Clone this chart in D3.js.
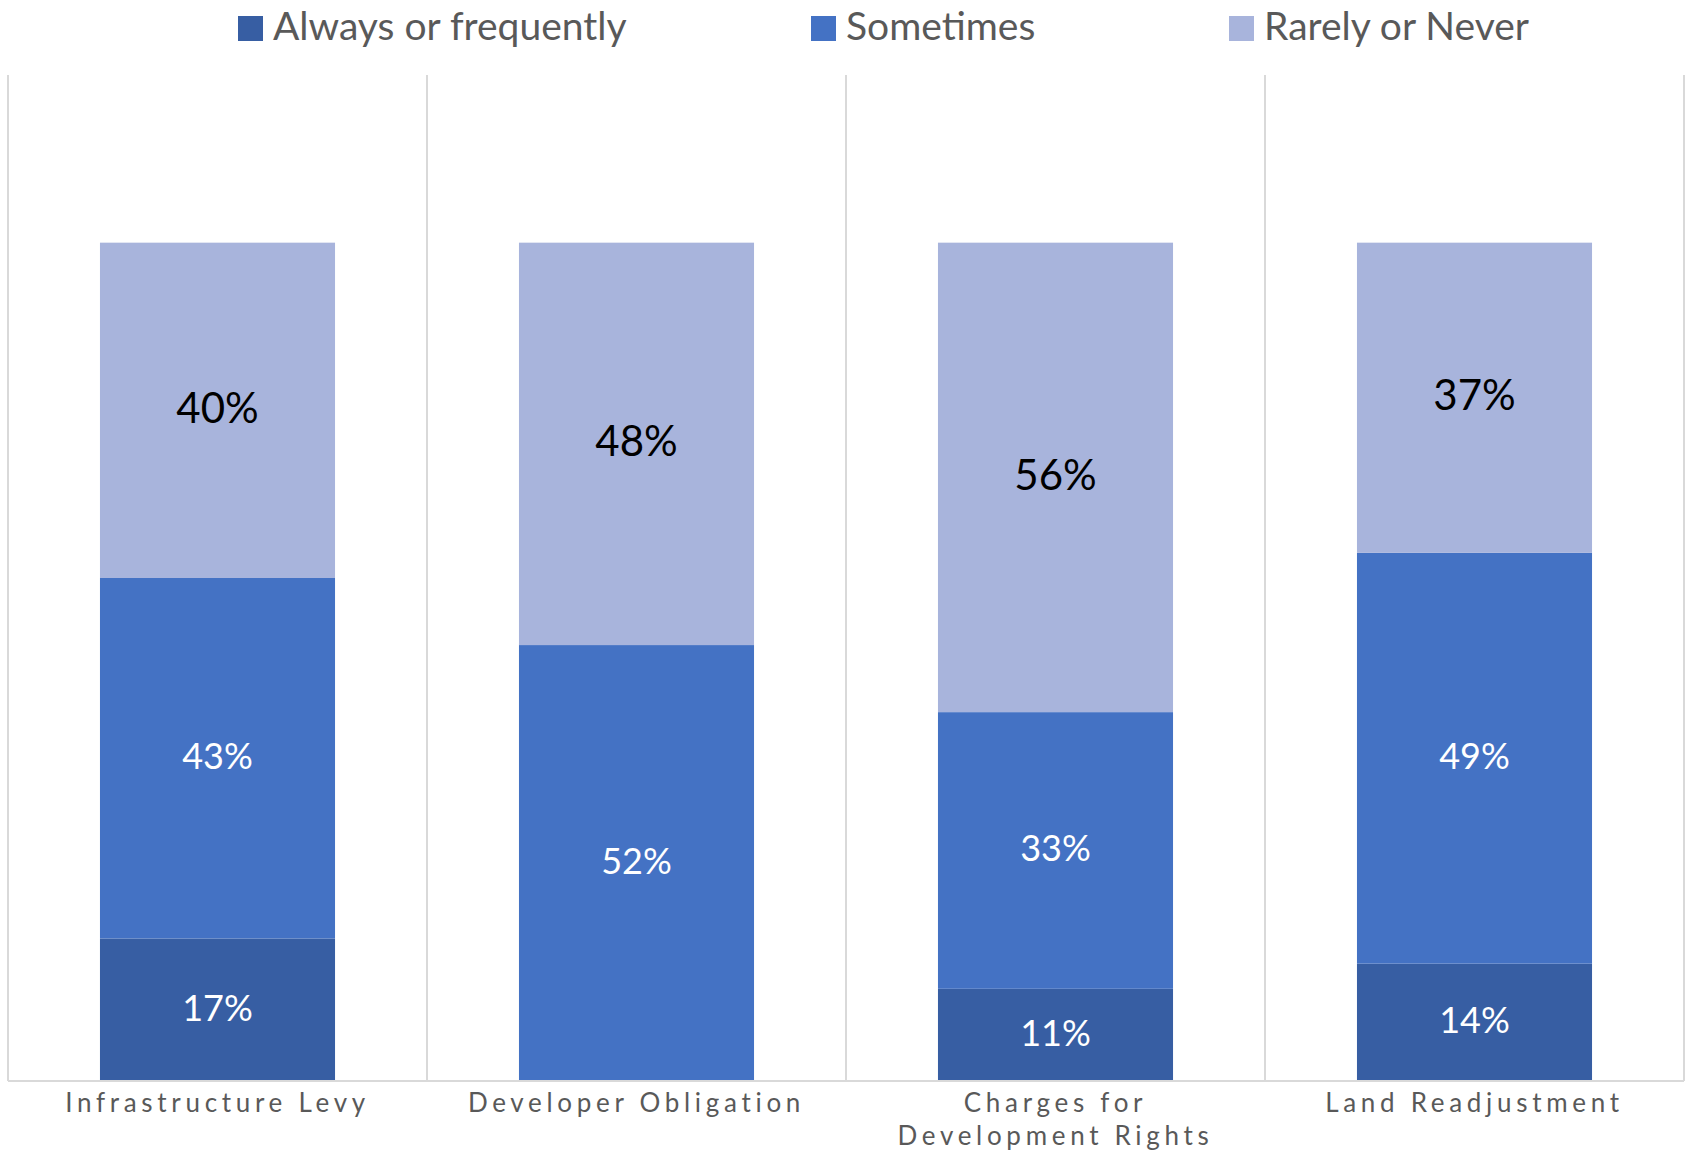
<!DOCTYPE html>
<html>
<head>
<meta charset="utf-8">
<script src="https://cdn.jsdelivr.net/npm/d3@7"></script>
<style>
  html, body { margin: 0; padding: 0; background: #ffffff; }
  svg { display: block; }
  text { font-family: Lato, "Open Sans", sans-serif; }
</style>
</head>
<body>
<svg id="chart" width="1686" height="1153"></svg>
<script>
// Survey responses by land value capture instrument (share of respondents)
const categories = [
  ["Infrastructure Levy"],
  ["Developer Obligation"],
  ["Charges for", "Development Rights"],
  ["Land Readjustment"]
];
const seriesNames = ["Always or frequently", "Sometimes", "Rarely or Never"];
const alwaysValues    = [17, 0, 11, 14];
const sometimesValues = [43, 52, 33, 49];
const rarelyValues    = [40, 48, 56, 37];
const seriesColors = ["#375EA3", "#4472C4", "#A8B4DC"];
const labelColors  = ["#ffffff", "#ffffff", "#000000"];

const W = 1686, H = 1153;
const plot = { left: 8, right: 1684, top: 75, bottom: 1081 };

const svg = d3.select("#chart");

const keys = categories.map(c => c.join(" "));
const rows = keys.map((k, i) => ({
  key: k,
  s0: alwaysValues[i],
  s1: sometimesValues[i],
  s2: rarelyValues[i]
}));

const stack = d3.stack().keys(["s0", "s1", "s2"]);
const layers = stack(rows);

const x = d3.scaleBand()
  .domain(keys)
  .range([plot.left, plot.right])
  .paddingInner(0.439)
  .paddingOuter(0.2195);

const y = d3.scaleLinear()
  .domain([0, 120])
  .range([plot.bottom, plot.top]);

// category separators
const sepX = d3.range(keys.length + 1).map(i => plot.left + i * (plot.right - plot.left) / keys.length);
svg.append("g")
  .selectAll("line")
  .data(sepX)
  .join("line")
  .attr("x1", d => d).attr("x2", d => d)
  .attr("y1", plot.top).attr("y2", plot.bottom)
  .attr("stroke", "#d9d9d9")
  .attr("stroke-width", 2);

// stacked bars
const layerG = svg.append("g")
  .selectAll("g")
  .data(layers)
  .join("g")
  .attr("fill", (d, i) => seriesColors[i]);

layerG.selectAll("rect")
  .data(d => d)
  .join("rect")
  .attr("x", d => x(d.data.key))
  .attr("width", x.bandwidth())
  .attr("y", d => y(d[1]))
  .attr("height", d => y(d[0]) - y(d[1]));

// baseline
svg.append("line")
  .attr("x1", plot.left).attr("x2", plot.right)
  .attr("y1", plot.bottom).attr("y2", plot.bottom)
  .attr("stroke", "#d9d9d9")
  .attr("stroke-width", 2);

// value labels
layers.forEach((layer, i) => {
  svg.append("g")
    .selectAll("text")
    .data(layer.filter(d => d[1] - d[0] > 0))
    .join("text")
    .attr("x", d => x(d.data.key) + x.bandwidth() / 2)
    .attr("y", d => (y(d[0]) + y(d[1])) / 2)
    .attr("dy", "0.3em")
    .attr("text-anchor", "middle")
    .attr("fill", labelColors[i])
    .attr("font-size", i === 2 ? 42 : 36)
    .text(d => (d[1] - d[0]) + "%");
});

// category labels
const catG = svg.append("g");
categories.forEach((lines, i) => {
  const cx = x(keys[i]) + x.bandwidth() / 2;
  const t = catG.append("text")
    .attr("x", cx)
    .attr("y", 1112)
    .attr("text-anchor", "middle")
    .attr("fill", "#595959")
    .attr("font-size", 26)
    .attr("letter-spacing", "4.7px");
  lines.forEach((ln, j) => {
    t.append("tspan")
      .attr("x", cx)
      .attr("dy", j === 0 ? 0 : 33)
      .text(ln);
  });
});

// legend
const legendX = [238, 811, 1229];
const legend = svg.append("g")
  .selectAll("g")
  .data(seriesNames)
  .join("g")
  .attr("transform", (d, i) => `translate(${legendX[i]},0)`);
legend.append("rect")
  .attr("x", 0).attr("y", 16)
  .attr("width", 25).attr("height", 25)
  .attr("fill", (d, i) => seriesColors[i]);
legend.append("text")
  .attr("x", 35).attr("y", 40)
  .attr("fill", "#595959")
  .attr("font-size", 39)
  .text(d => d);
</script>
</body>
</html>
